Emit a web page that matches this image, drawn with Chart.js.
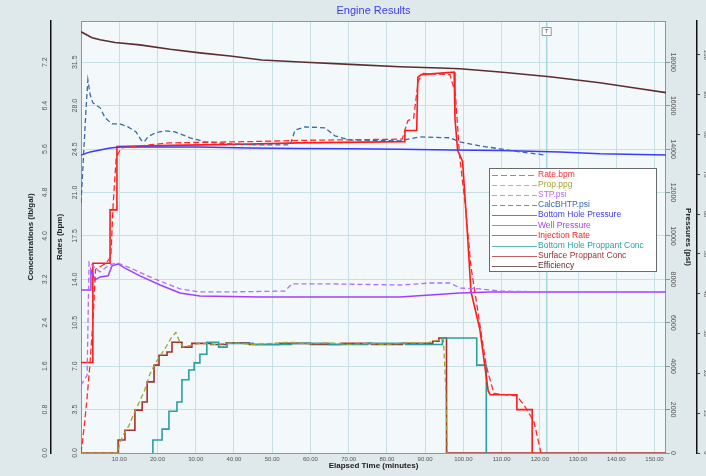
<!DOCTYPE html>
<html>
<head>
<meta charset="utf-8">
<script src="https://cdn.jsdelivr.net/npm/chart.js@4.4.0/dist/chart.umd.min.js"></script>
<style>
    html, body { margin: 0; padding: 0; background: #dfe9eb; }
</style>
</head>
<body>
<canvas id="grafico" width="706" height="476"></canvas>
<script>
// Datos (tiempo en minutos)
const rateTime = [0, 0.8, 1.6, 2.3, 3.2, 3.8, 6.5, 7.8, 8.4, 9.2, 10.5, 23, 44, 57, 84, 85.5, 87, 88.2, 89.5, 96.5, 97.9, 99, 100.5, 102, 104, 106, 108, 114, 116, 118.5, 120.3];
const rateBpm = [0, 2, 4.5, 7, 11, 14.8, 15.3, 15.8, 20, 23.8, 24.6, 25.0, 25.1, 25.2, 25.3, 26.8, 27, 30, 30.6, 30.5, 29, 24, 20, 15, 11, 7, 4.8, 4.6, 3.8, 2.5, 0];

const propTime = [0, 9.6, 10.2, 11.2, 12.5, 13.8, 15.2, 16.6, 18, 19.4, 20.8, 22.2, 23.6, 24.8, 25.8, 26.8, 28.5, 31, 35, 40, 45, 50, 55, 60, 65, 70, 75, 80, 85, 90, 93.5, 94.8, 95.4, 95.8];
const propPpg = [0, 0, 0.2, 0.35, 0.5, 0.72, 0.93, 1.15, 1.45, 1.65, 1.8, 1.95, 2.12, 2.22, 2.05, 1.95, 1.98, 2.02, 2.0, 2.03, 2.0, 2.02, 2.04, 2.01, 2.03, 2.0, 2.02, 2.0, 2.03, 2.02, 2.08, 2.1, 1.2, 0];

const stpTime = [0, 1.6, 2.1, 3.7, 5.0, 6.3, 7.6, 9.4, 11.5, 14.1, 18.0, 22.0, 25.9, 31.1, 39.0, 53.3, 55.2, 65.1, 83.4, 91.3, 96.5, 99.1, 104.3, 109.6, 121.3];
const stpPsi = [3130, 3590, 8800, 8520, 8340, 8520, 8660, 8760, 8620, 8430, 8110, 7830, 7560, 7420, 7420, 7460, 7790, 7790, 7740, 7830, 7830, 7600, 7560, 7460, 7420];

const bhtpTime = [0, 1.3, 1.8, 2.4, 3.1, 5.0, 6.3, 8.1, 10.2, 12.3, 14.4, 15.7, 16.5, 17.5, 19.4, 22.0, 24.6, 28.5, 32.4, 39.0, 46.8, 54.7, 56.0, 58.6, 63.8, 66.4, 70.3, 83.4, 88.7, 96.5, 99.1, 104.3, 109.6, 114.8, 121.3];
const bhtpPsi = [11520, 15800, 17190, 16500, 16130, 15900, 15440, 15160, 15160, 15020, 14790, 14420, 14330, 14560, 14750, 14840, 14790, 14520, 14330, 14240, 14190, 14190, 14880, 15020, 14980, 14610, 14420, 14380, 14560, 14520, 14330, 14150, 14010, 13870, 13730];

const bhpTime = [0, 2.4, 5.0, 7.6, 10.2, 31.1, 44.2, 57.3, 70.3, 83.4, 96.5, 109.6, 125.3, 135.7, 153];
const bhpPsi = [13730, 13870, 13960, 14050, 14100, 14100, 14050, 14030, 14010, 13990, 13960, 13940, 13870, 13780, 13730];

const wellTime = [0, 2.4, 2.6, 3.7, 5.0, 7.1, 8.1, 9.7, 11.5, 15.4, 20.7, 25.9, 31.1, 46.8, 83.4, 91.3, 99.1, 107, 153];
const wellPsi = [7510, 7510, 8430, 7970, 8110, 8160, 8620, 8710, 8520, 8160, 7740, 7370, 7230, 7190, 7190, 7280, 7370, 7420, 7420];

const injTime = [0, 3.1, 3.1, 7.6, 7.6, 9.4, 9.4, 23.3, 44, 57, 84.5, 84.7, 87.8, 88.1, 89, 97.6, 97.8, 98.5, 99.8, 101, 102, 104.3, 106.5, 107, 114, 114, 118, 118];
const injRate = [7.3, 7.3, 15.3, 15.3, 19.6, 19.6, 24.7, 24.8, 24.9, 25.0, 25.1, 26.0, 26.0, 30.3, 30.5, 30.7, 27, 24.4, 23.5, 18, 13, 10, 5, 4.7, 4.7, 3.5, 3.5, 0];

// concentraciones escalonadas: cada punto marca el inicio del nuevo valor
const bhConcTime = [18.8, 18.8, 21.2, 23, 25.1, 26.4, 28.2, 29.6, 31.1, 32.9, 36, 38.2, 45, 55, 65, 75, 85, 94.5, 103.5, 106];
const bhConc = [0, 0.24, 0.44, 0.77, 0.94, 1.35, 1.53, 1.66, 1.82, 2.04, 1.95, 2.02, 2.0, 2.02, 2.0, 2.02, 2.0, 2.12, 1.62, 0];

const surfConcTime = [0, 9.7, 11.5, 14.1, 16, 17.3, 19.1, 20.4, 22.5, 23.8, 26.4, 29, 34, 38, 44, 52, 60, 68, 76, 84, 92, 93.6, 95.6, 153];
const surfConc = [0, 0.24, 0.42, 0.79, 0.94, 1.31, 1.62, 1.80, 1.86, 2.04, 1.95, 2.02, 2.0, 2.03, 2.0, 2.02, 2.0, 2.02, 2.0, 2.02, 2.06, 2.12, 0, 0];

const effTime = [0, 2.9, 5.0, 8.9, 15.4, 23.3, 31.1, 39.0, 47.3, 57.3, 70.3, 83.4, 93.9, 99.1, 109.6, 122.6, 135.7, 146.2, 153];
const effValue = [105.8, 104.3, 103.8, 103.1, 102.5, 101.4, 100.5, 99.7, 98.7, 98.2, 97.6, 97.0, 96.7, 96.5, 95.7, 94.5, 93.0, 91.5, 90.5];

// marcas de los ejes
const timeTicks = [0, 10, 20, 30, 40, 50, 60, 70, 80, 90, 100, 110, 120, 130, 140, 150];
const concTicks = [0, 0.8, 1.6, 2.4, 3.2, 4.0, 4.8, 5.6, 6.4, 7.2];
const rateTicks = [0, 3.5, 7.0, 10.5, 14.0, 17.5, 21.0, 24.5, 28.0, 31.5];
const presTicks = [0, 2000, 4000, 6000, 8000, 10000, 12000, 14000, 16000, 18000];
const effTicks = [0, 10, 20, 30, 40, 50, 60, 70, 80, 90, 100];

const tiempoMarca = 121.8;

function serie(t, v) {
    return t.map((x, i) => ({ x: x, y: v[i] }));
}

const fuente = '"Liberation Sans", Arial, sans-serif';

function etiquetasY(chart, id, x, ang, fmt, size) {
    const s = chart.scales[id];
    const ctx = chart.ctx;
    ctx.save();
    ctx.font = size + 'px ' + fuente;
    ctx.fillStyle = '#555';
    ctx.textAlign = 'center';
    ctx.textBaseline = 'middle';
    s.ticks.forEach(t => {
        const y = s.getPixelForValue(t.value);
        ctx.save();
        ctx.translate(x, y);
        ctx.rotate(ang);
        ctx.fillText(fmt(t.value), 0, 0);
        ctx.restore();
    });
    ctx.restore();
}

const fondo = {
    id: 'fondo',
    beforeDraw(chart) {
        const { ctx, chartArea: a } = chart;
        ctx.save();
        ctx.fillStyle = '#dfe9eb';
        ctx.fillRect(0, 0, chart.width, chart.height);
        ctx.fillStyle = '#f3f9fb';
        ctx.fillRect(a.left, a.top, a.right - a.left, a.bottom - a.top);
        ctx.restore();
    },
    beforeDatasetsDraw(chart) {
        const { ctx, chartArea: a } = chart;
        ctx.save();
        // linea de marca
        const xm = chart.scales.x.getPixelForValue(tiempoMarca);
        ctx.strokeStyle = '#a9d6dc';
        ctx.lineWidth = 1.5;
        ctx.beginPath();
        ctx.moveTo(xm, a.top);
        ctx.lineTo(xm, a.bottom);
        ctx.stroke();
        // borde del area
        ctx.strokeStyle = '#8c9799';
        ctx.lineWidth = 1;
        ctx.strokeRect(a.left + 0.5, a.top + 0.5, a.right - a.left - 1, a.bottom - a.top);
        ctx.restore();
    },
    afterDraw(chart) {
        const ctx = chart.ctx;
        etiquetasY(chart, 'yConc', 45, -Math.PI / 2, v => v.toFixed(1), 7);
        etiquetasY(chart, 'yRate', 75, -Math.PI / 2, v => v.toFixed(1), 7);
        etiquetasY(chart, 'yPres', 673, Math.PI / 2, v => String(Math.round(v)), 7);
        etiquetasY(chart, 'yEff', 706, Math.PI / 2, v => String(Math.round(v)), 6);

        // caja "T"
        const xm = chart.scales.x.getPixelForValue(tiempoMarca);
        ctx.save();
        ctx.fillStyle = '#fafafa';
        ctx.strokeStyle = '#9a9a9a';
        ctx.lineWidth = 1;
        ctx.fillRect(xm - 4.5, 27.5, 9, 8);
        ctx.strokeRect(xm - 4.5, 27.5, 9, 8);
        ctx.fillStyle = '#555';
        ctx.font = '6px ' + fuente;
        ctx.textAlign = 'center';
        ctx.textBaseline = 'middle';
        ctx.fillText('T', xm, 31.8);

        // leyenda
        const bx = 489, by = 168, bw = 167, bh = 103;
        ctx.fillStyle = '#ffffff';
        ctx.fillRect(bx, by, bw, bh);
        ctx.strokeStyle = '#6a6a6a';
        ctx.strokeRect(bx + 0.5, by + 0.5, bw, bh);
        ctx.font = '8.5px ' + fuente;
        ctx.textAlign = 'left';
        chart.data.datasets.forEach((d, i) => {
            const y = 174.5 + i * 10.15;
            ctx.strokeStyle = d.borderColor;
            ctx.globalAlpha = 0.75;
            ctx.lineWidth = 1;
            ctx.setLineDash(d.borderDash || []);
            ctx.beginPath();
            ctx.moveTo(492, Math.round(y) + 0.5);
            ctx.lineTo(537, Math.round(y) + 0.5);
            ctx.stroke();
            ctx.setLineDash([]);
            ctx.globalAlpha = 1;
            ctx.fillStyle = d.borderColor;
            ctx.fillText(d.label, 538, y);
        });
        ctx.restore();
    }
};

const ejeY = (pos, peso, ancho, min, max, marcas, titulo, pad) => ({
    type: 'linear',
    position: pos,
    weight: peso,
    min: min,
    max: max,
    afterFit: s => { s.width = ancho; },
    afterBuildTicks: s => { s.ticks = marcas.map(v => ({ value: v })); },
    ticks: { display: false },
    grid: { drawOnChartArea: false, drawTicks: false },
    border: { display: false },
    title: titulo ? {
        display: true, text: titulo, color: '#222',
        font: { family: fuente, size: 8, weight: 'bold' },
        padding: { top: pad, bottom: 0 }
    } : { display: false }
});

const escalas = {
    x: {
        type: 'linear',
        min: 0,
        max: 153,
        afterFit: s => { s.height = 23; },
        afterBuildTicks: s => { s.ticks = timeTicks.map(v => ({ value: v })); },
        ticks: {
            maxRotation: 0,
            autoSkip: false,
            padding: 3,
            color: '#555',
            font: { family: fuente, size: 6 },
            callback: v => v === 0 ? '' : v.toFixed(2)
        },
        grid: { color: '#c6dfe3', lineWidth: 1, drawTicks: false },
        border: { display: false },
        title: {
            display: true, text: 'Elapsed Time (minutes)', color: '#222',
            font: { family: fuente, size: 8, weight: 'bold' },
            padding: { top: 0, bottom: 5 }
        }
    },
    yConc: ejeY('left', 2, 51, 0, 7.96, concTicks, 'Concentrations (lb/gal)', 26),
    yRate: ejeY('left', 1, 30, 0, 34.825, rateTicks, 'Rates (bpm)', 4),
    yPres: ejeY('right', 1, 31, 0, 19900, presTicks, 'Pressures (psi)', 3.7),
    yEff: ejeY('right', 2, 9, 0, 108.5, effTicks, null, 0)
};
escalas.yConc.border = { display: true, color: '#111', width: 1.5 };
escalas.yPres.grid = { drawOnChartArea: true, color: '#c6dfe3', lineWidth: 1, drawTicks: true, tickLength: 4, tickColor: '#8c9799' };
escalas.yEff.border = { display: true, color: '#111', width: 1.5 };
escalas.yEff.grid = { drawOnChartArea: false, drawTicks: true, tickLength: 3, tickColor: '#333' };

new Chart(document.getElementById('grafico'), {
    type: 'line',
    data: {
        datasets: [
            { label: 'Rate.bpm', data: serie(rateTime, rateBpm), yAxisID: 'yRate', borderColor: '#ff2a2a', borderDash: [6, 3], borderWidth: 1.3 },
            { label: 'Prop.ppg', data: serie(propTime, propPpg), yAxisID: 'yConc', borderColor: '#a3a330', borderDash: [5, 3], borderWidth: 1.3 },
            { label: 'STP.psi', data: serie(stpTime, stpPsi), yAxisID: 'yPres', borderColor: '#b46cff', borderDash: [5, 3], borderWidth: 1.3 },
            { label: 'CalcBHTP.psi', data: serie(bhtpTime, bhtpPsi), yAxisID: 'yPres', borderColor: '#3a68a6', borderDash: [5, 3], borderWidth: 1.3 },
            { label: 'Bottom Hole Pressure', data: serie(bhpTime, bhpPsi), yAxisID: 'yPres', borderColor: '#3b3bff', borderWidth: 1.5 },
            { label: 'Well Pressure', data: serie(wellTime, wellPsi), yAxisID: 'yPres', borderColor: '#a040ff', borderWidth: 1.5 },
            { label: 'Injection Rate', data: serie(injTime, injRate), yAxisID: 'yRate', borderColor: '#ff1a1a', borderWidth: 1.6 },
            { label: 'Bottom Hole Proppant Conc', data: serie(bhConcTime, bhConc), yAxisID: 'yConc', borderColor: '#2a9fa0', borderWidth: 1.6, stepped: true },
            { label: 'Surface Proppant Conc', data: serie(surfConcTime, surfConc), yAxisID: 'yConc', borderColor: '#a53030', borderWidth: 1.6, stepped: true },
            { label: 'Efficiency', data: serie(effTime, effValue), yAxisID: 'yEff', borderColor: '#5e2c2c', borderWidth: 1.6 }
        ]
    },
    options: {
        responsive: false,
        animation: false,
        devicePixelRatio: 1,
        elements: { point: { radius: 0 }, line: { tension: 0 } },
        layout: { padding: 0 },
        scales: escalas,
        plugins: {
            legend: { display: false },
            tooltip: { enabled: false },
            title: {
                display: true,
                fullSize: false,
                text: 'Engine Results',
                color: '#3b3bef',
                font: { family: fuente, size: 11, weight: 'normal' },
                padding: { top: 4, bottom: 3.8 }
            }
        }
    },
    plugins: [fondo]
});
</script>
</body>
</html>
